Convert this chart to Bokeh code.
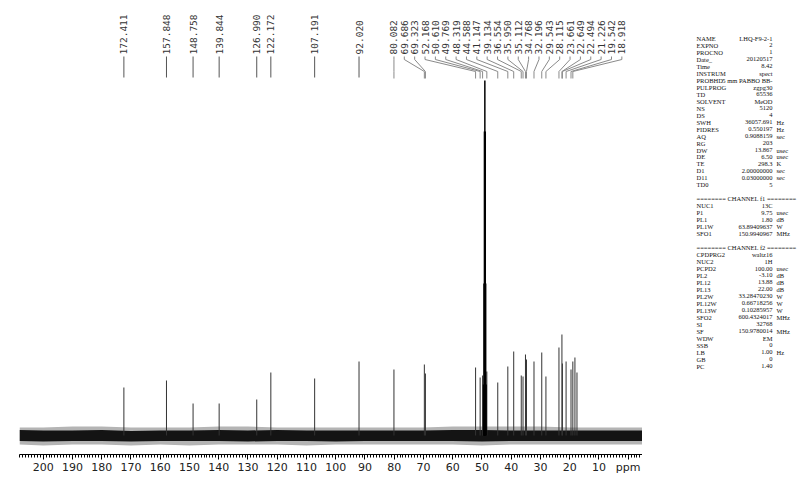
import numpy as np
from bokeh.plotting import figure
from bokeh.models import Range1d, SingleIntervalTicker
from bokeh.layouts import row
from bokeh.embed import file_html
from bokeh.resources import INLINE
from bokeh.core.properties import value

# ---------------- data ----------------
# labelled 13C peaks (ppm) and their heights (arbitrary intensity units)
peak_ppm = [172.411, 157.848, 148.758, 139.844, 126.990, 122.172, 107.191, 92.020,
            80.082, 69.686, 69.323, 52.168, 50.610, 49.769, 48.319, 44.588, 41.147,
            39.134, 36.554, 35.950, 35.112, 34.768, 32.196, 29.543, 28.115, 23.661,
            22.649, 22.494, 21.226, 19.542, 18.918]
peak_height = [48, 55, 32, 32, 36, 63, 57, 74,
               66, 71, 62, 68, 58, 60, 64, 53, 69,
               84, 60, 59, 81, 76, 74, 83, 59, 88,
               101, 72, 74, 66, 74]
peak_label = ["%.3f" % v for v in peak_ppm]

# unlabelled peaks visible near 18 ppm
extra_ppm = [18.2, 17.5]
extra_height = [78, 63]

# solvent (CD3OD) septet
solvent_ppm = [49.43, 49.29, 49.14, 49.00, 48.86, 48.72, 48.57]
solvent_height = [51, 152, 304, 355, 304, 152, 51]

# baseline noise envelope
noise_ppm = [208.1, 200, 190, 180, 170, 160, 150, 140, 130, 120, 110, 100, 90, 80,
             70, 60, 50, 40, 30, 20, 10, 0, -4.9]
noise_core_hi = [5.5, 5, 5, 5.5, 4.5, 5, 5, 5.5, 5, 5.5, 5, 5, 5, 5,
                 5, 5.5, 5.5, 5, 5, 5, 5, 5, 5]
noise_core_lo = [-5.5, -6, -5.5, -5.5, -6, -5.5, -5.5, -5.5, -6, -5.5, -5.5, -6, -5.5, -5.5,
                 -5.5, -5.5, -6, -5.5, -5.5, -5.5, -5.5, -5.5, -5.5]
noise_out_hi = [8, 8, 9, 9, 8, 8, 8, 9, 9, 8, 8, 8, 8, 8,
                8, 9, 9, 9, 9, 8, 8, 8, 8]
noise_out_lo = [-9, -10, -9, -9, -10, -9, -10, -9, -9, -9, -10, -9, -9, -9,
                -9, -9, -10, -9, -9, -9, -9, -9, -9]

# acquisition parameter table
par_names = ["NAME", "EXPNO", "PROCNO", "Date_", "Time", "INSTRUM", "PROBHD", "PULPROG",
             "TD", "SOLVENT", "NS", "DS", "SWH", "FIDRES", "AQ", "RG", "DW", "DE", "TE",
             "D1", "D11", "TD0", "",
             "======== CHANNEL f1 ========", "NUC1", "P1", "PL1", "PL1W", "SFO1", "",
             "======== CHANNEL f2 ========", "CPDPRG2", "NUC2", "PCPD2", "PL2", "PL12",
             "PL13", "PL2W", "PL12W", "PL13W", "SFO2", "SI", "SF", "WDW", "SSB", "LB",
             "GB", "PC"]
par_values = ["LHQ-F9-2-1", "2", "1", "20120517", "8.42", "spect", "5 mm PABBO BB-",
              "zgpg30", "65536", "MeOD", "5120", "4", "36057.691", "0.550197",
              "0.9088159", "203", "13.867", "6.50", "298.3", "2.00000000",
              "0.03000000", "5", "",
              "", "13C", "9.75", "1.80", "63.89409637", "150.9940967", "",
              "", "waltz16", "1H", "100.00", "-3.10", "13.88", "22.00", "33.28470230",
              "0.66718256", "0.10285957", "600.4324017", "32768", "150.9780014", "EM",
              "0", "1.00", "0", "1.40"]
par_units = ["", "", "", "", "", "", "", "", "", "", "", "", "Hz", "Hz", "sec", "",
             "usec", "usec", "K", "sec", "sec", "", "",
             "", "", "usec", "dB", "W", "MHz", "",
             "", "", "", "usec", "dB", "dB", "dB", "W", "W", "W", "MHz", "", "MHz", "",
             "", "Hz", "", ""]

# ---------------- layout (page pixels) ----------------
FRAME_LEFT, FRAME_RIGHT = 19, 642
FRAME_H = 454
PPM_LEFT, PPM_RIGHT = 208.1, -4.9
FRAME_W = FRAME_RIGHT - FRAME_LEFT
PPM_PER_PX = (PPM_LEFT - PPM_RIGHT) / FRAME_W
BASE_PAGE_Y = 435          # page y of the baseline
Y_TOP = BASE_PAGE_Y
Y_BOT = BASE_PAGE_Y - FRAME_H


def dy(page_y):
    return BASE_PAGE_Y - page_y


p = figure(frame_width=FRAME_W, frame_height=FRAME_H, x_range=Range1d(PPM_LEFT, PPM_RIGHT),
           y_range=Range1d(Y_BOT, Y_TOP), output_backend="svg", toolbar_location=None,
           min_border_left=FRAME_LEFT, min_border_right=0, min_border_top=0,
           min_border_bottom=0, y_axis_location=None)
p.grid.visible = False
p.outline_line_color = None

# noise band
p.varea(x=noise_ppm, y1=noise_out_lo, y2=noise_out_hi, fill_color="#b4b4b4")
p.varea(x=noise_ppm, y1=noise_core_lo, y2=noise_core_hi, fill_color="#141414")

# peaks
p.segment(x0=peak_ppm, y0=[0] * len(peak_ppm), x1=peak_ppm, y1=peak_height,
          line_color="#333333", line_width=1)
p.segment(x0=extra_ppm, y0=[0] * len(extra_ppm), x1=extra_ppm, y1=extra_height,
          line_color="#333333", line_width=1)
p.segment(x0=solvent_ppm, y0=[0] * len(solvent_ppm), x1=solvent_ppm, y1=solvent_height,
          line_color="#000000", line_width=1.5)

# peak labels
n_left = 8
left_ppm = peak_ppm[:n_left]
right_peaks = peak_ppm[n_left:]
step = 10.36 * PPM_PER_PX
right_label_ppm = [right_peaks[0] - i * step for i in range(len(right_peaks))]
label_x = left_ppm + right_label_ppm

p.text(x=label_x, y=[dy(54)] * len(label_x), text=peak_label, angle=np.pi / 2,
       text_align="left", text_baseline="middle", text_font=value("DejaVu Sans Mono"),
       text_font_size=value("9.5px"), text_color="#333333")

p.segment(x0=left_ppm, y0=[dy(56)] * n_left, x1=left_ppm, y1=[dy(77)] * n_left,
          line_color="#555555", line_width=1)
xs = [[lx, lx, px, px] for lx, px in zip(right_label_ppm, right_peaks)]
ys = [[dy(56), dy(59), dy(71), dy(78)] for _ in right_peaks]
p.multi_line(xs=xs, ys=ys, line_color="#8a8a8a", line_width=1)

ax = p.xaxis[0]
ax.ticker = SingleIntervalTicker(interval=10, num_minor_ticks=10)
ax.major_label_overrides = {0: "ppm"}
ax.axis_line_color = "#000000"
ax.major_tick_in = 0
ax.major_tick_out = 5
ax.minor_tick_in = 0
ax.minor_tick_out = 3
ax.major_tick_line_color = "#000000"
ax.minor_tick_line_color = "#000000"
ax.major_label_standoff = 1
ax.major_label_text_font = "DejaVu Sans"
ax.major_label_text_font_size = "11px"
ax.major_label_text_color = "#222222"

# parameter table (coordinates in page pixels; frame aligned with spectrum frame)
T_LEFT, T_W = 642, 158
t = figure(frame_width=T_W, frame_height=FRAME_H, x_range=Range1d(T_LEFT, T_LEFT + T_W),
           y_range=Range1d(FRAME_H, 0), output_backend="svg", toolbar_location=None,
           min_border=0, x_axis_location=None, y_axis_location=None)
t.grid.visible = False
t.outline_line_color = None
ROW0, ROW_H = 38, 6.97
rows_y = [ROW0 + i * ROW_H for i in range(len(par_names))]
NAME_X, VAL_X, UNIT_X = 696, 772, 776
font = value("Liberation Serif")
fs = value("6.5px")
t.text(x=[NAME_X] * len(par_names), y=rows_y, text=par_names, text_align="left",
       text_baseline="middle", text_font=font, text_font_size=fs, text_color="#111111")
t.text(x=[VAL_X] * len(par_values), y=rows_y, text=par_values, text_align="right",
       text_baseline="middle", text_font=font, text_font_size=fs, text_color="#111111")
t.text(x=[UNIT_X] * len(par_units), y=rows_y, text=par_units, text_align="left",
       text_baseline="middle", text_font=font, text_font_size=fs, text_color="#111111")

layout = row(p, t)
open("out.html", "w").write(file_html(layout, INLINE))
